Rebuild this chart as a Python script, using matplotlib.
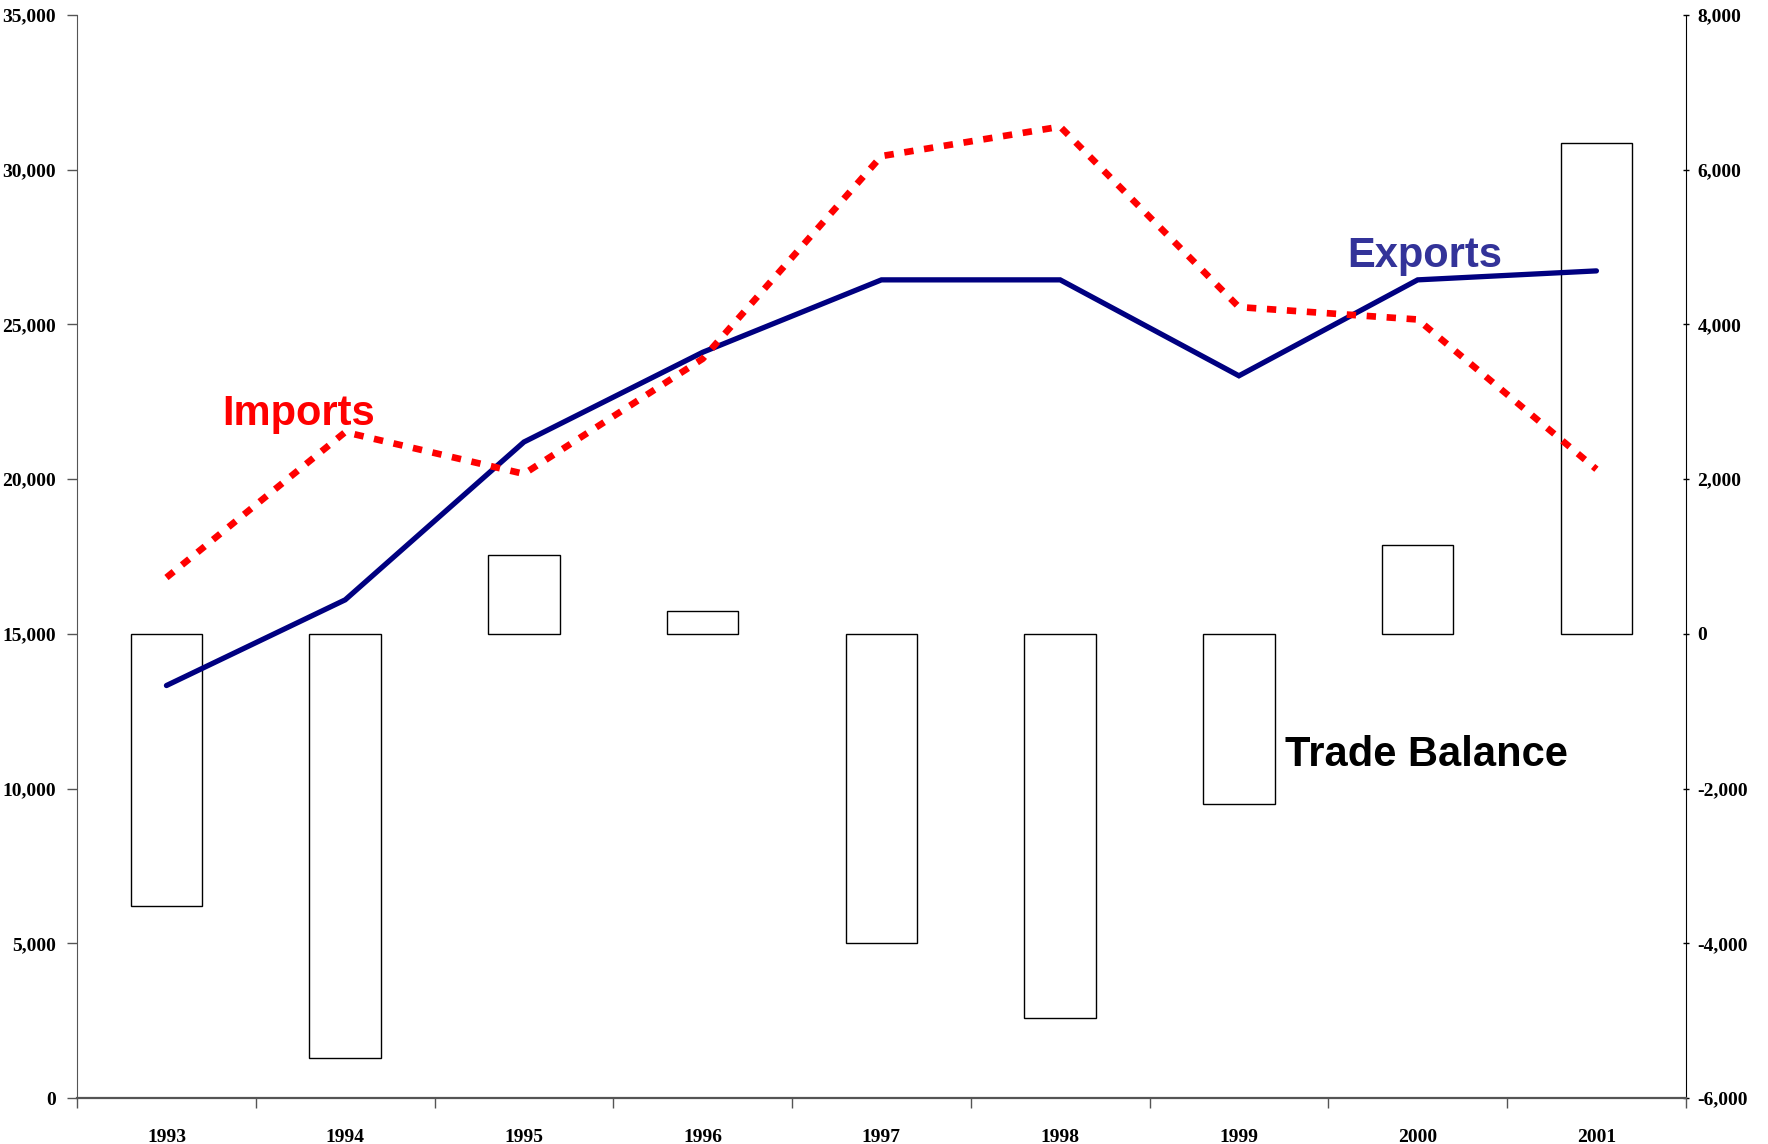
import numpy as np
import matplotlib.pyplot as plt
from matplotlib.ticker import FuncFormatter

# donnees
annees = ['1993', '1994', '1995', '1996', '1997', '1998', '1999', '2000', '2001']
exports = [13330, 16100, 21200, 24100, 26440, 26440, 23340, 26440, 26730]
imports = [16820, 21520, 20170, 23890, 30440, 31390, 25560, 25160, 20320]
balance = [-3520, -5480, 1020, 300, -3990, -4970, -2200, 1150, 6350]

serif = ['Liberation Serif', 'DejaVu Serif']
narrow = ['Liberation Sans Narrow', 'Liberation Sans', 'DejaVu Sans']

fig = plt.figure(figsize=(17.68, 11.44), dpi=100)
ax = fig.add_axes([0.0436, 0.0402, 0.9099, 0.9467])
ax2 = ax.twinx()

x = np.arange(len(annees))

# barres de la balance commerciale (axe de droite)
ax2.bar(x, balance, width=0.4, color='white', edgecolor='black', linewidth=1.0, zorder=1)
ax2.set_ylim(-6000, 8000)
ax2.set_yticks(np.arange(-6000, 8001, 2000))

# courbes (axe de gauche) au-dessus des barres
ax.set_zorder(ax2.get_zorder() + 1)
ax.patch.set_visible(False)
ax.plot(x, exports, color='#000080', lw=3.8, solid_capstyle='round', solid_joinstyle='miter')
ax.plot(x, imports, color='#ff0000', lw=4.8, linestyle=(0, (1.4, 1.6)))
ax.set_ylim(0, 35000)
ax.set_yticks(np.arange(0, 35001, 5000))
ax.set_xlim(-0.5, len(annees) - 0.5)

# ticks de l'axe x entre les categories
ax.set_xticks(x)
ax.set_xticklabels(annees)
ax.set_xticks(np.arange(-0.5, len(annees), 1), minor=True)
ax.tick_params(axis='x', which='major', length=0, pad=22)
ax.tick_params(axis='x', which='minor', length=7, width=1, color='#555555', direction='out')
ax.tick_params(axis='y', length=7, width=1, color='#555555', direction='out', pad=8)
ax2.tick_params(axis='y', length=5, width=1, direction='inout', pad=6)

fmt = FuncFormatter(lambda v, p: f'{int(v):,}')
ax.yaxis.set_major_formatter(fmt)
ax2.yaxis.set_major_formatter(fmt)

for lab in ax.get_xticklabels() + ax.get_yticklabels() + ax2.get_yticklabels():
    lab.set_family(serif)
    lab.set_fontweight('bold')
    lab.set_fontsize(14)

for a in (ax, ax2):
    a.spines['top'].set_visible(False)
ax.spines['left'].set_color('#555555')
ax.spines['bottom'].set_color('#555555')
ax.spines['bottom'].set_linewidth(1.6)
ax.spines['right'].set_visible(False)
ax2.spines['left'].set_visible(False)
ax2.spines['bottom'].set_visible(False)
ax2.spines['right'].set_color('black')

# etiquettes des series
ax.text(0.74, 22100, 'Imports', color='#ff0000', fontsize=30, fontweight='bold',
        family=narrow, ha='center', va='center')
ax.text(7.04, 27200, 'Exports', color='#333399', fontsize=30, fontweight='bold',
        family=narrow, ha='center', va='center')
ax.text(7.05, 11100, 'Trade Balance', color='black', fontsize=30, fontweight='bold',
        family=narrow, ha='center', va='center')

fig.savefig('out.png', dpi=100)
